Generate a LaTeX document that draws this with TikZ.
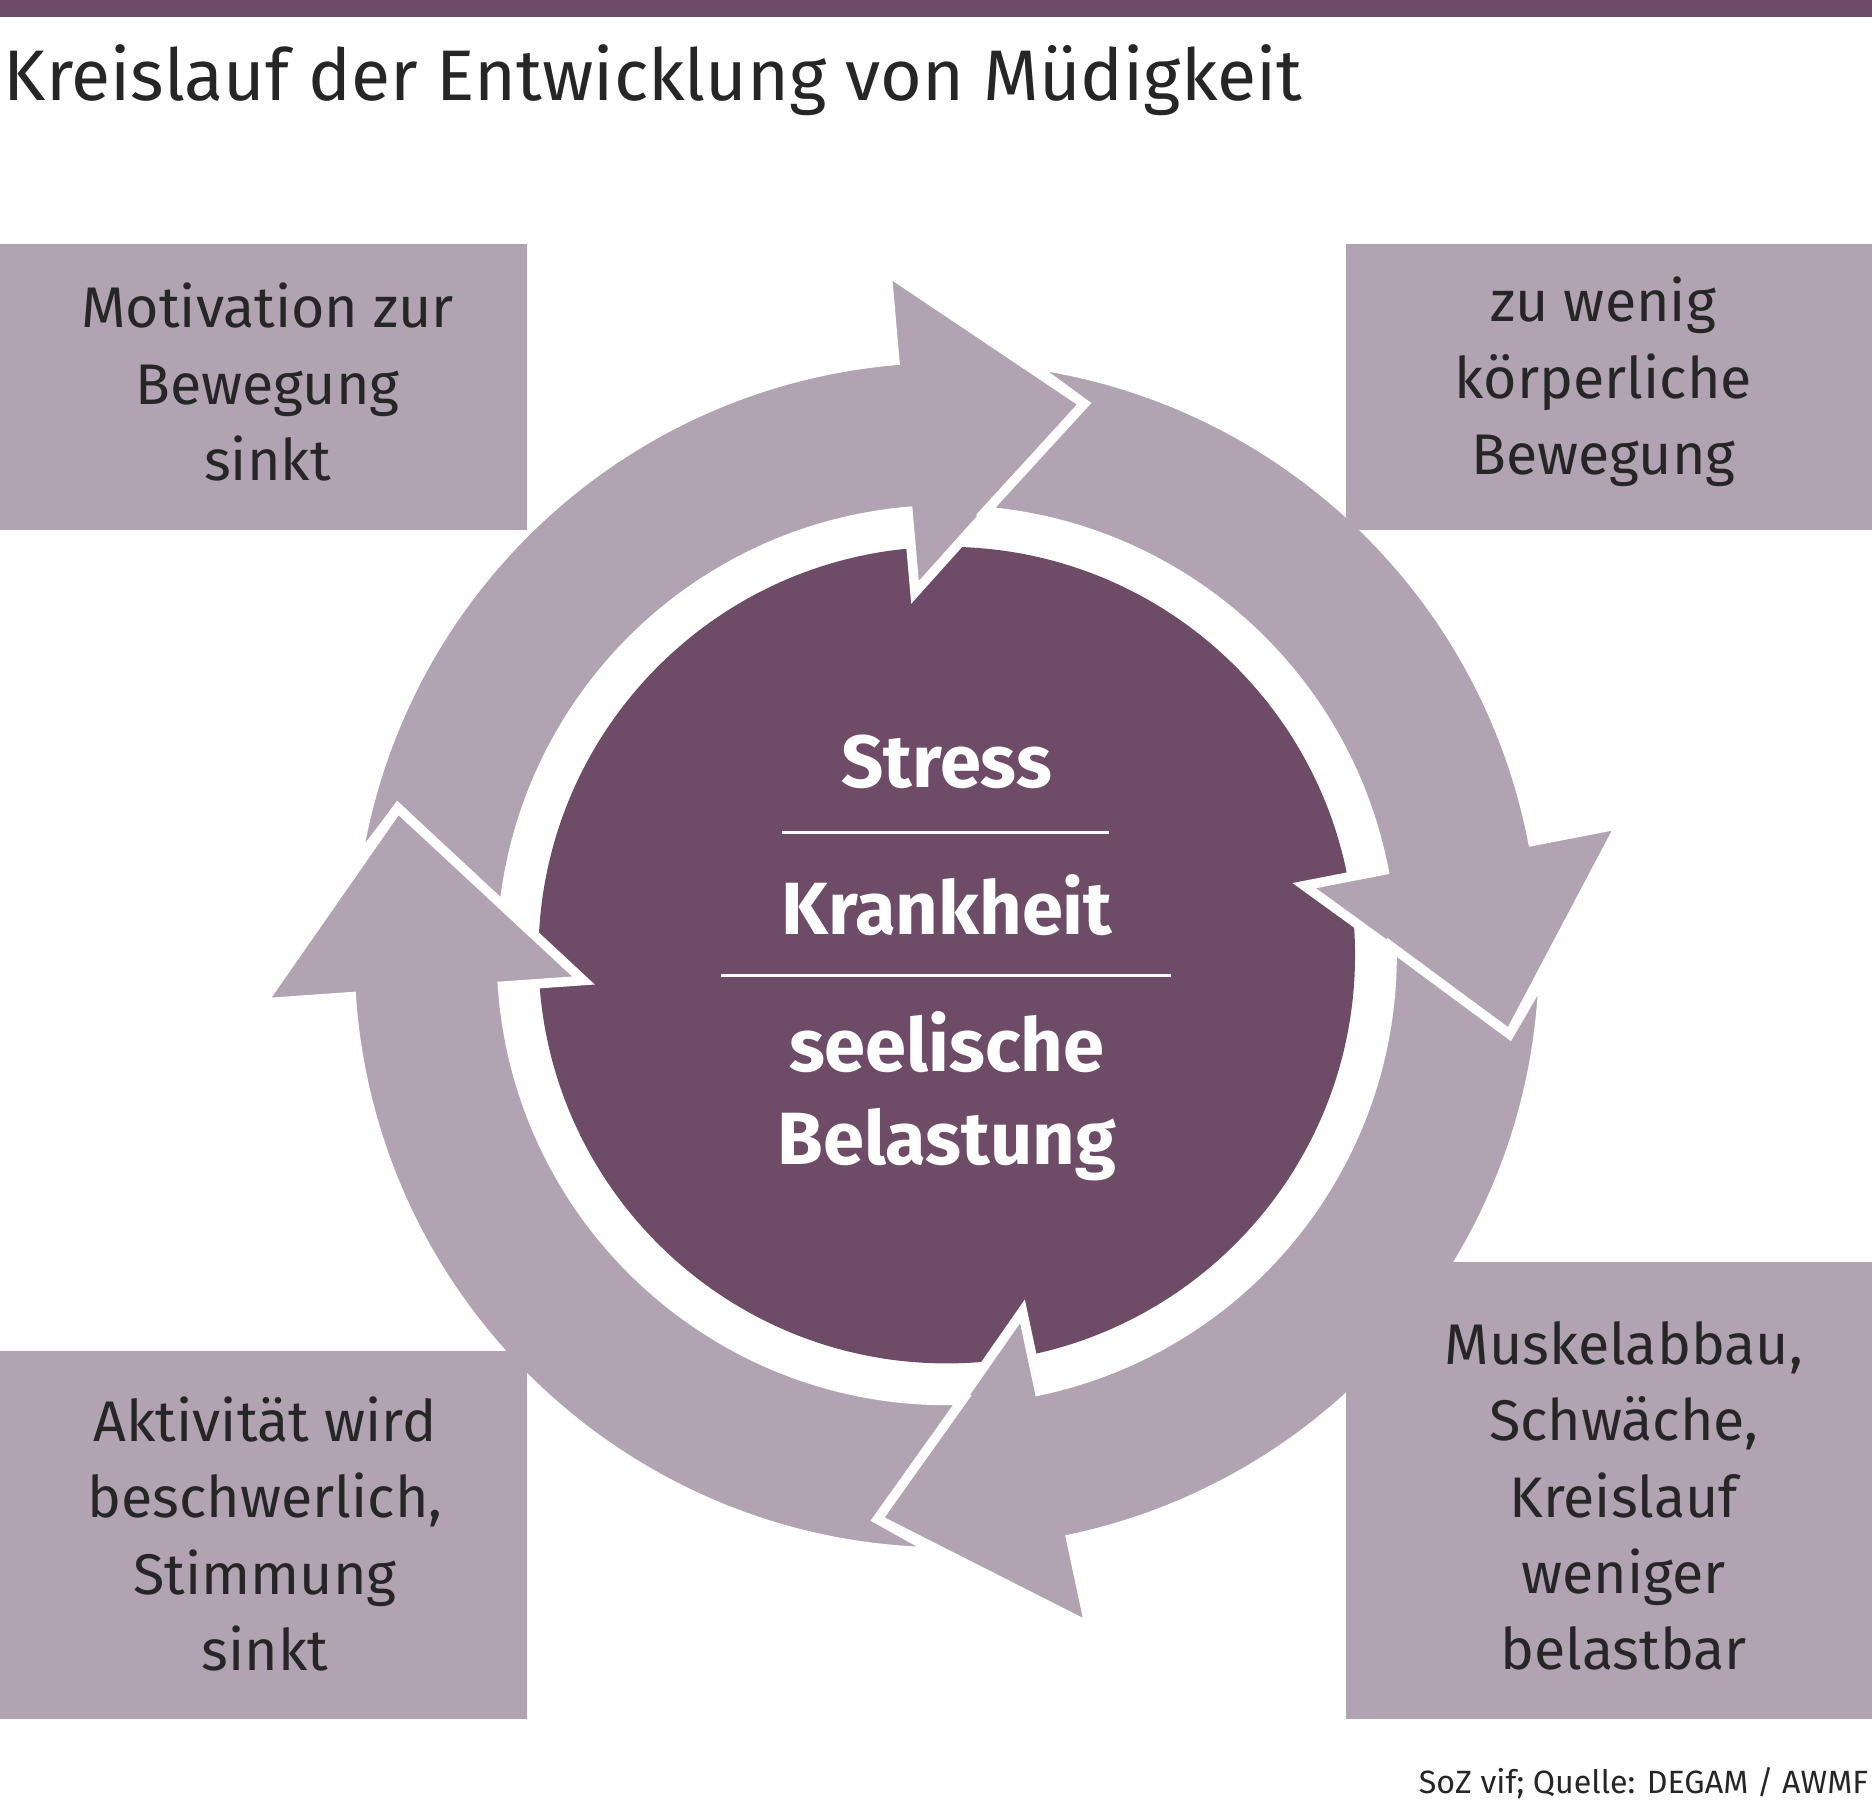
\documentclass[tikz,border=0pt]{standalone}
\usepackage{fontspec}
\setmainfont{Fira Sans}
\definecolor{lilac}{HTML}{B2A3B2}
\definecolor{plum}{HTML}{6E4C68}
\tikzset{
 box/.style={fill=lilac},
 boxtext/.style={align=center, text=black!85, font=\fontsize{48}{64}\selectfont},
 coretext/.style={text=white, font=\fontsize{62}{78}\selectfont\bfseries},
 ringarrow/.style={fill=lilac, draw=white, line width=8pt, line join=miter}
}
\begin{document}
\begin{tikzpicture}[x=1pt, y=-1pt]
 \useasboundingbox (0,0) rectangle (1568,1509);
 \fill[plum] (0,0) rectangle (1568,14);
 \node[anchor=base west, inner sep=0pt, text=black!85, font=\fontsize{60}{70}\selectfont] (title) at (3,84) {Kreislauf der Entwicklung von Müdigkeit};

 % center and ring of arrows
 \fill[plum] (793,800) circle[radius=342];
 \begin{scope}[shift={(793,800)}, y=1pt]
  \foreach \p/\b in {184/95, 95/11, 11/-78, 282/184}
   \draw[ringarrow] (\p-13:500) -- (\p-19:476) -- (\p-10:373)
    arc[start angle=\p-10, end angle=\b, radius=373]
    -- (\b:305) -- (\b-19:476) -- (\b:575) -- (\b:500)
    arc[start angle=\b, end angle=\p-13, radius=500] -- cycle;
 \end{scope}

 % boxes
 \fill[box] (0,204) rectangle (441,444);
 \fill[box] (1127,204) rectangle (1568,444);
 \fill[box] (0,1132) rectangle (441,1440);
 \fill[box] (1127,1057) rectangle (1568,1440);
 \node[boxtext] (tl) at (224,320) {Motivation zur\\Bewegung\\sinkt};
 \node[boxtext] (tr) at (1343,320) {zu wenig\\körperliche\\Bewegung};
 \node[boxtext] (bl) at (222,1285) {Aktivität wird\\beschwerlich,\\Stimmung\\sinkt};
 \node[boxtext] (br) at (1360,1253) {Muskelabbau,\\Schwäche,\\Kreislauf\\weniger\\belastbar};

 % center text
 \node[coretext] (stress) at (793,638) {Stress};
 \node[coretext] (krank) at (793,758) {Krankheit};
 \node[coretext, align=center] (seele) at (793,918) {seelische\\Belastung};
 \draw[white, line width=2.5pt] (655,697) -- (929,697);
 \draw[white, line width=2.5pt] (604,817) -- (981,817);

 \node[anchor=base east, inner sep=0pt, text=black!85, font=\fontsize{27}{32}\selectfont] (src) at (1565,1502) {SoZ vif; Quelle: DEGAM / AWMF};
\end{tikzpicture}
\end{document}
